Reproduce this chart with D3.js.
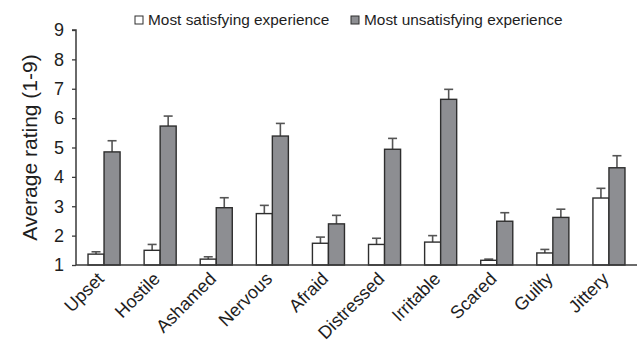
<!DOCTYPE html>
<html>
<head>
<meta charset="utf-8">
<script src="https://cdn.jsdelivr.net/npm/d3@7"></script>
<style>
  html, body { margin: 0; padding: 0; background: #fff; }
  svg { display: block; font-family: "Liberation Sans", Arial, sans-serif; }
</style>
</head>
<body>
<svg id="chart" width="641" height="344"></svg>
<script>
// Emotion categories rated after each experience
const categories = ["Upset", "Hostile", "Ashamed", "Nervous", "Afraid",
                    "Distressed", "Irritable", "Scared", "Guilty", "Jittery"];

// Mean ratings (1-9 scale)
const satisfyingMeans   = [1.37, 1.50, 1.20, 2.75, 1.74, 1.70, 1.78, 1.16, 1.41, 3.28];
const unsatisfyingMeans = [4.85, 5.73, 2.95, 5.39, 2.40, 4.94, 6.64, 2.49, 2.62, 4.31];

// Upper ends of the error bars
const satisfyingUpper   = [1.45, 1.70, 1.28, 3.03, 1.95, 1.91, 2.00, 1.20, 1.53, 3.61];
const unsatisfyingUpper = [5.23, 6.07, 3.29, 5.82, 2.69, 5.31, 6.98, 2.78, 2.90, 4.72];

const seriesNames = ["Most satisfying experience", "Most unsatisfying experience"];
const yTicks = [1, 2, 3, 4, 5, 6, 7, 8, 9];

const series = [
  { name: seriesNames[0], means: satisfyingMeans, upper: satisfyingUpper, fill: "#ffffff" },
  { name: seriesNames[1], means: unsatisfyingMeans, upper: unsatisfyingUpper, fill: "#8d8e92" }
];

const svg = d3.select("#chart");
const axisColor = "#3a3a3a";
const textColor = "#1e1e1e";

const x0 = d3.scaleBand()
  .domain(categories)
  .range([76, 637])
  .paddingInner(0.4286)
  .paddingOuter(0.2143);

const x1 = d3.scaleBand()
  .domain([0, 1])
  .range([0, x0.bandwidth()]);

const y = d3.scaleLinear().domain([1, 9]).range([265, 30]);

// Bars
const groups = svg.append("g")
  .selectAll("g")
  .data(categories)
  .join("g")
  .attr("transform", d => `translate(${x0(d)},0)`);

series.forEach((s, si) => {
  groups.each(function (c, ci) {
    const g = d3.select(this);
    const bx = x1(si);
    const bw = x1.bandwidth();
    const cx = bx + bw / 2;
    // error whisker (upper only) with cap
    g.append("line")
      .attr("x1", cx).attr("x2", cx)
      .attr("y1", y(s.means[ci])).attr("y2", y(s.upper[ci]))
      .attr("stroke", "#555").attr("stroke-width", 1.6);
    g.append("line")
      .attr("x1", cx - 4.5).attr("x2", cx + 4.5)
      .attr("y1", y(s.upper[ci])).attr("y2", y(s.upper[ci]))
      .attr("stroke", "#555").attr("stroke-width", 1.6);
    g.append("rect")
      .attr("x", bx)
      .attr("y", y(s.means[ci]))
      .attr("width", bw)
      .attr("height", y(1) - y(s.means[ci]))
      .attr("fill", s.fill)
      .attr("stroke", "#2e2e2e")
      .attr("stroke-width", 1.4);
  });
});

// Y axis
const yAxis = svg.append("g")
  .attr("transform", "translate(76,0)")
  .call(d3.axisLeft(y).tickValues(yTicks).tickSize(4).tickPadding(8).tickFormat(d3.format("d")));
yAxis.select(".domain").attr("stroke", axisColor).attr("stroke-width", 1.5)
  .attr("d", `M-4,${y(9)}H0V${y(1)}`);
yAxis.selectAll(".tick line").attr("stroke", axisColor).attr("stroke-width", 1.3);
yAxis.selectAll(".tick text")
  .attr("fill", textColor)
  .style("font-size", "18px")
  .style("font-family", "'Liberation Sans', Arial, sans-serif");

// X axis baseline and rotated category labels
svg.append("line")
  .attr("x1", 76).attr("x2", 637)
  .attr("y1", y(1)).attr("y2", y(1))
  .attr("stroke", axisColor).attr("stroke-width", 1.5);

svg.append("g")
  .selectAll("text")
  .data(categories)
  .join("text")
  .attr("transform", d => `translate(${x0(d) + x0.bandwidth() / 2 + 1},${y(1) + 15}) rotate(-45)`)
  .attr("text-anchor", "end")
  .attr("fill", textColor)
  .style("font-size", "18px")
  .text(d => d);

// Y axis title
svg.append("text")
  .attr("transform", `translate(37,${(y(1) + y(9)) / 2}) rotate(-90)`)
  .attr("text-anchor", "middle")
  .attr("fill", textColor)
  .style("font-size", "21px")
  .text("Average rating (1-9)");

// Legend
const legendX = [135, 351];
const legend = svg.append("g")
  .selectAll("g")
  .data(series)
  .join("g")
  .attr("transform", (d, i) => `translate(${legendX[i]},16)`);
legend.append("rect")
  .attr("width", 8).attr("height", 8)
  .attr("fill", d => d.fill)
  .attr("stroke", "#2e2e2e").attr("stroke-width", 1);
legend.append("text")
  .attr("x", 13).attr("y", 9)
  .attr("fill", textColor)
  .style("font-size", "15.4px")
  .text(d => d.name);
</script>
</body>
</html>
